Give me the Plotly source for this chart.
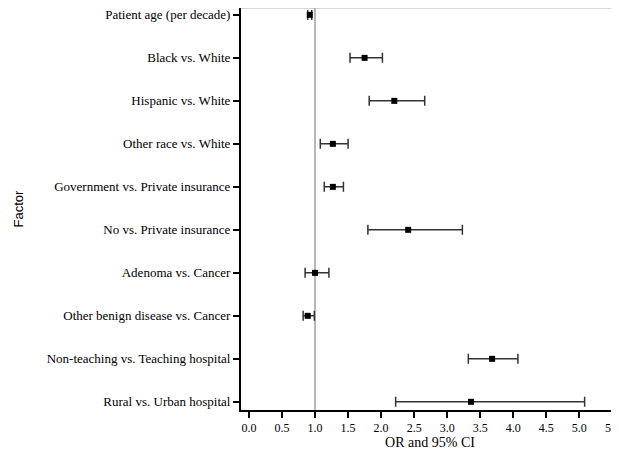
import plotly.graph_objects as go

factors = ["Patient age (per decade)", "Black vs. White", "Hispanic vs. White",
           "Other race vs. White", "Government vs. Private insurance",
           "No vs. Private insurance", "Adenoma vs. Cancer",
           "Other benign disease vs. Cancer", "Non-teaching vs. Teaching hospital",
           "Rural vs. Urban hospital"]
odds_ratio = [0.92, 1.75, 2.20, 1.27, 1.27, 2.41, 1.00, 0.89, 3.68, 3.36]
ci_low = [0.89, 1.53, 1.82, 1.08, 1.14, 1.80, 0.85, 0.82, 3.32, 2.22]
ci_high = [0.95, 2.02, 2.66, 1.50, 1.43, 3.23, 1.21, 0.99, 4.07, 5.08]
x_ticks = [0.0, 0.5, 1.0, 1.5, 2.0, 2.5, 3.0, 3.5, 4.0, 4.5, 5.0, 5.5]

ypos = list(range(len(factors)))

fig = go.Figure()
fig.add_trace(go.Scatter(
    x=odds_ratio, y=ypos, mode="markers",
    marker=dict(symbol="square", size=6, color="black"),
    error_x=dict(type="data", symmetric=False,
                 array=[h - o for h, o in zip(ci_high, odds_ratio)],
                 arrayminus=[o - l for o, l in zip(odds_ratio, ci_low)],
                 color="#333333", thickness=1.5, width=5),
    showlegend=False, hoverinfo="skip"))

fig.add_shape(type="line", xref="x", yref="paper", x0=1.0, x1=1.0, y0=0, y1=1,
              line=dict(color="#888888", width=1.2), layer="below")
fig.add_shape(type="line", xref="paper", yref="paper", x0=0, x1=1, y0=1, y1=1,
              line=dict(color="#aaaaaa", width=1))

serif = "Liberation Serif, Times New Roman, serif"
font = dict(family=serif, size=13, color="black")

# page body has an 8px default margin; figure is sized to fit the window
fig.update_layout(
    width=611, height=454,
    margin=dict(l=233, r=0, t=0, b=52, autoexpand=False),
    paper_bgcolor="white", plot_bgcolor="white",
    font=font,
    xaxis=dict(range=[-0.12, 5.6], tickvals=x_ticks,
               ticktext=[f"{v:.1f}" for v in x_ticks],
               ticklabeloverflow="allow",
               showgrid=False, zeroline=False, showline=True, linecolor="black",
               linewidth=2, ticks="outside", ticklen=6, tickcolor="black",
               tickwidth=1.5, tickfont=dict(size=12),
               title=dict(text="OR and 95% CI", font=dict(size=14), standoff=0)),
    yaxis=dict(range=[len(factors) - 1 + 0.19, -0.16], tickvals=ypos,
               ticktext=factors, showgrid=False, zeroline=False,
               showline=True, linecolor="black", linewidth=2,
               ticks="outside", ticklen=6, tickcolor="black", tickwidth=1.5,
               automargin=False, ticklabeloverflow="allow",
               title=dict(text="Factor",
                          font=dict(size=13, family="Liberation Sans, Arial, sans-serif"),
                          standoff=20)),
)

fig.write_html("out.html")
